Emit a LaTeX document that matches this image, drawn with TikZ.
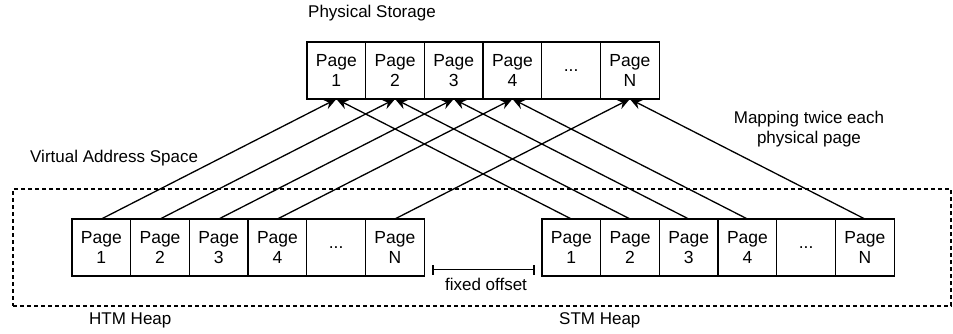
\documentclass[tikz,border=0pt]{standalone}
\usepackage{fontspec}
\setmainfont{Liberation Sans}
\usetikzlibrary{arrows.meta}
\begin{document}
\begin{tikzpicture}[x=1pt,y=-1pt,
  pagebox/.style={draw,line width=1.3pt,minimum width=58.7pt,minimum height=57pt,inner sep=0pt,outer sep=0pt,align=center,font=\fontsize{17.5}{20}\selectfont},
  lbl/.style={inner sep=0pt,font=\fontsize{17}{20}\selectfont,align=center},
  map/.style={line width=1.3pt,-{Stealth[length=12pt,width=10pt,inset=4pt]}},
  thin1/.style={line width=1.5pt},
]
\useasboundingbox (0,0) rectangle (953,333);
% virtual address space
\node[draw,dash pattern=on 4pt off 3pt,line width=1.3pt,minimum width=938pt,minimum height=117pt,inner sep=0pt] (vas) at (482,247.5) {};
% pages
\foreach \n/\t [count=\k from 0] in {1/{Page\\1},2/{Page\\2},3/{Page\\3},4/{Page\\4},d/{...},N/{Page\\N}}{
  \node[pagebox,fill=white] (s\n) at (336.35+58.7*\k,70.5) {\t};
  \node[pagebox,fill=white] (h\n) at (101.35+58.7*\k,247.5) {\t};
  \node[pagebox,fill=white] (t\n) at (571.35+58.7*\k,247.5) {\t};
}
\foreach \n in {1,2,3,4,N}{
  \draw[map] (h\n.north) -- (s\n.south);
  \draw[map] (t\n.north) -- (s\n.south);
}
% labels
\node[lbl,anchor=west] (lps) at (308,13) {Physical Storage};
\node[lbl,anchor=west] (lvas) at (30,158) {Virtual Address Space};
\node[lbl] (lmap) at (809,129) {Mapping twice each\\physical page};
\node[lbl,anchor=west] (lhtm) at (89,320) {HTM Heap};
\node[lbl,anchor=west] (lstm) at (559,320) {STM Heap};
% fixed offset
\coordinate (fo1) at (433,269.5);
\coordinate (fo2) at (534,269.5);
\draw[thin1] ([yshift=-5pt]fo1) -- ([yshift=5pt]fo1) (fo1) -- (fo2) ([yshift=-5pt]fo2) -- ([yshift=5pt]fo2);
\node[lbl] (lfo) at (486,284) {fixed offset};
\end{tikzpicture}
\end{document}
